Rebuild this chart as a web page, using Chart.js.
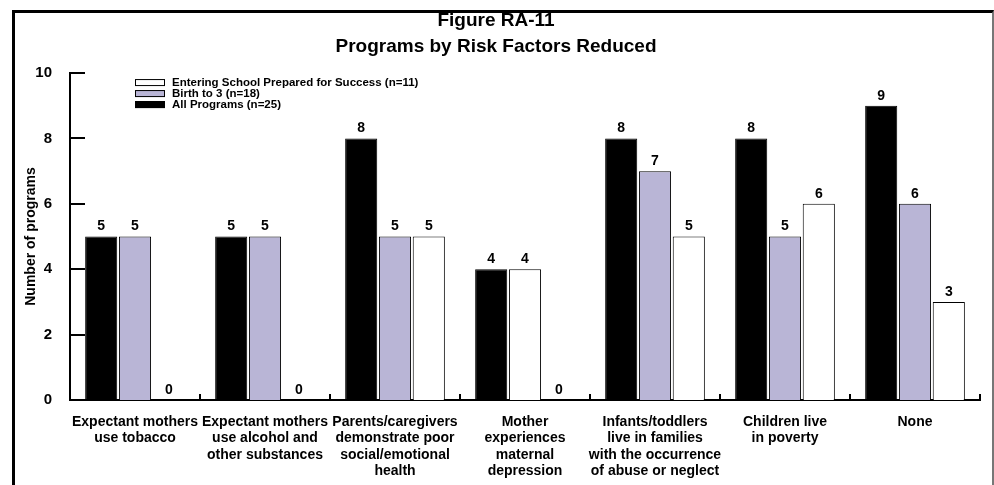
<!DOCTYPE html>
<html>
<head>
<meta charset="utf-8">
<style>
  html, body { margin: 0; padding: 0; background: #fff; }
  #wrap { position: relative; width: 994px; height: 485px; }
  #frame {
    position: absolute; left: 12px; top: 10px; right: 0; bottom: -10px;
    border-left: 3px solid #000; border-top: 3px solid #000;
    border-right: 2px solid #777;
    pointer-events: none;
  }
</style>
</head>
<body>
<div id="wrap">
  <canvas id="riskChart" width="994" height="485"></canvas>
  <div id="frame"></div>
</div>

<script src="https://cdn.jsdelivr.net/npm/chart.js"></script>
<script>
const categories = [
  ['Expectant mothers', 'use tobacco'],
  ['Expectant mothers', 'use alcohol and', 'other substances'],
  ['Parents/caregivers', 'demonstrate poor', 'social/emotional', 'health'],
  ['Mother', 'experiences', 'maternal', 'depression'],
  ['Infants/toddlers', 'live in families', 'with the occurrence', 'of abuse or neglect'],
  ['Children live', 'in poverty'],
  ['None']
];
const allPrograms = [5, 5, 8, 4, 8, 8, 9];
const birthTo3 = [5, 5, 5, 4, 7, 5, 6];
const enteringSchool = [0, 0, 5, 0, 5, 6, 3];
const yTicks = [0, 2, 4, 6, 8, 10];

const FONT = 'Arial, "Liberation Sans", sans-serif';
const LAVENDER = '#b9b5d6';

// inward tick marks on both axes
const axisTicks = {
  id: 'axisTicks',
  afterDraw(chart) {
    const ctx = chart.ctx, area = chart.chartArea;
    const y = chart.scales.y, x = chart.scales.x;
    ctx.save();
    ctx.strokeStyle = '#000';
    ctx.lineWidth = 2;
    yTicks.forEach(v => {
      const py = Math.round(y.getPixelForValue(v));
      ctx.beginPath();
      ctx.moveTo(area.left, py);
      ctx.lineTo(area.left + 15, py);
      ctx.stroke();
    });
    for (let i = 0; i < categories.length; i++) {
      let px = i < categories.length - 1
        ? (x.getPixelForTick(i) + x.getPixelForTick(i + 1)) / 2
        : area.right;
      px = Math.round(px);
      ctx.beginPath();
      ctx.moveTo(px, area.bottom);
      ctx.lineTo(px, area.bottom - 6);
      ctx.stroke();
    }
    ctx.restore();
  }
};

// value labels above bars
const barLabels = {
  id: 'barLabels',
  afterDatasetsDraw(chart) {
    const ctx = chart.ctx;
    ctx.save();
    ctx.font = 'bold 14px ' + FONT;
    ctx.fillStyle = '#000';
    ctx.textAlign = 'center';
    ctx.textBaseline = 'bottom';
    chart.data.datasets.forEach((ds, i) => {
      chart.getDatasetMeta(i).data.forEach((bar, j) => {
        ctx.fillText(ds.data[j], bar.x, bar.y - 3);
      });
    });
    ctx.restore();
  }
};

// legend inside plot, reversed order
const insideLegend = {
  id: 'insideLegend',
  afterDraw(chart) {
    const ctx = chart.ctx, area = chart.chartArea;
    const x0 = area.left + 65, y0 = area.top + 6;
    ctx.save();
    ctx.font = 'bold 11.5px ' + FONT;
    ctx.textBaseline = 'middle';
    ctx.textAlign = 'left';
    const items = chart.data.datasets.slice().reverse();
    items.forEach((ds, k) => {
      const yy = y0 + k * 11;
      const fill = Array.isArray(ds.backgroundColor) ? ds.backgroundColor[0] : ds.backgroundColor;
      ctx.fillStyle = fill;
      ctx.fillRect(x0, yy, 30, 7);
      ctx.strokeStyle = '#000';
      ctx.lineWidth = 1;
      ctx.strokeRect(x0 + 0.5, yy + 0.5, 29, 6);
      ctx.fillStyle = '#000';
      ctx.fillText(ds.label, x0 + 37, yy + 4);
    });
    ctx.restore();
  }
};

new Chart(document.getElementById('riskChart'), {
  type: 'bar',
  data: {
    labels: categories,
    datasets: [
      {
        label: 'All Programs (n=25)',
        data: allPrograms,
        backgroundColor: '#000',
        borderColor: '#000',
        borderWidth: 1
      },
      {
        label: 'Birth to 3 (n=18)',
        data: birthTo3,
        backgroundColor: [LAVENDER, LAVENDER, LAVENDER, '#fff', LAVENDER, LAVENDER, LAVENDER],
        borderColor: '#000',
        borderWidth: 1
      },
      {
        label: 'Entering School Prepared for Success (n=11)',
        data: enteringSchool,
        backgroundColor: '#fff',
        borderColor: '#000',
        borderWidth: 1
      }
    ]
  },
  options: {
    responsive: false,
    animation: false,
    maintainAspectRatio: false,
    layout: { padding: { left: 12, right: 14, top: 0, bottom: 5 } },
    datasets: { bar: { categoryPercentage: 0.78, barPercentage: 0.95 } },
    plugins: {
      legend: { display: false },
      tooltip: { enabled: false },
      title: {
        display: true,
        text: ['Figure RA-11', 'Programs by Risk Factors Reduced'],
        color: '#000',
        font: { family: FONT, size: 19, weight: 'bold', lineHeight: 1.37 },
        padding: { top: 8, bottom: 13 }
      }
    },
    scales: {
      x: {
        grid: { display: false },
        border: { display: true, color: '#000', width: 2 },
        ticks: {
          color: '#000',
          maxRotation: 0,
          autoSkip: false,
          padding: 6,
          font: { family: FONT, size: 14, weight: 'bold', lineHeight: 1.17 }
        },
        afterFit(scale) { scale.height = 80; }
      },
      y: {
        min: 0,
        max: 10,
        grid: { display: false },
        border: { display: true, color: '#000', width: 2 },
        afterBuildTicks(scale) { scale.ticks = yTicks.map(v => ({ value: v })); },
        ticks: {
          color: '#000',
          padding: 10,
          font: { family: FONT, size: 15, weight: 'bold' }
        },
        title: {
          display: true,
          text: 'Number of programs',
          color: '#000',
          font: { family: FONT, size: 14, weight: 'bold' },
          padding: { top: 11, bottom: 0 }
        },
        afterFit(scale) { scale.width = 58; }
      }
    }
  },
  plugins: [axisTicks, barLabels, insideLegend]
});
</script>
</body>
</html>
